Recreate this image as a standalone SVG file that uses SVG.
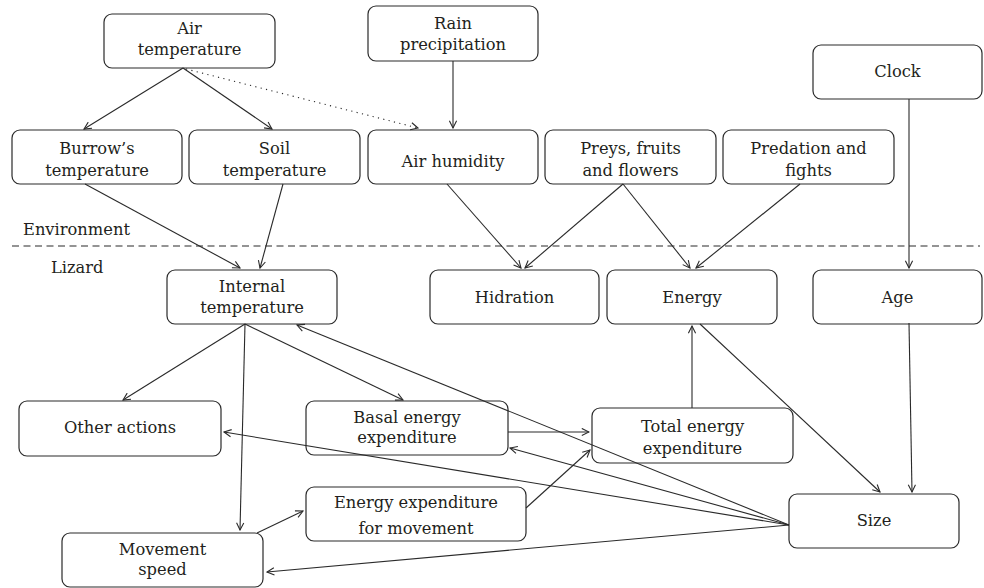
<svg xmlns="http://www.w3.org/2000/svg" width="984" height="588" viewBox="0 0 984 588">
<style>
.box{fill:none;stroke:#2a2a2a;stroke-width:1.2}
.t{font-family:"DejaVu Serif","Liberation Serif",serif;font-size:16.3px;fill:#231f20;text-anchor:middle}
.l{font-family:"DejaVu Serif","Liberation Serif",serif;font-size:16.3px;fill:#231f20}
.c{fill:none;stroke:#2a2a2a;stroke-width:1.1;marker-end:url(#ah)}
</style>
<defs>
<marker id="ah" viewBox="0 0 10 10" refX="9" refY="5" markerWidth="9" markerHeight="9" markerUnits="userSpaceOnUse" orient="auto">
<path d="M1,1 L9,5 L1,9" fill="none" stroke="#2a2a2a" stroke-width="1.2"/>
</marker>
</defs>
<rect width="984" height="588" fill="#fff"/>
<g id="connectors">
<path class="c" d="M183,68 L84,129"/>
<path class="c" d="M183,68 L272,129"/>
<path class="c" d="M186,69 L418,128" stroke-dasharray="1.2,4.3"/>
<path class="c" d="M453,61 L453,128"/>
<path class="c" d="M85,184 L240,268"/>
<path class="c" d="M283,184 L260,268"/>
<path class="c" d="M447,184 L521,268"/>
<path class="c" d="M623,184 L525,268"/>
<path class="c" d="M623,184 L690,268"/>
<path class="c" d="M800,184 L696,268"/>
<path class="c" d="M909,99 L909,268"/>
<path class="c" d="M245,324 L123,400"/>
<path class="c" d="M245,324 L240,530"/>
<path class="c" d="M245,324 L403,400"/>
<path class="c" d="M789,525 L297,325"/>
<path class="c" d="M700,324 L880,492"/>
<path class="c" d="M909,323 L912,492"/>
<path class="c" d="M692,408 L692,326"/>
<path class="c" d="M508,432 L589,432"/>
<path class="c" d="M526,508 L590,450"/>
<path class="c" d="M257,533 L303,511"/>
<path class="c" d="M789,525 L510,448"/>
<path class="c" d="M789,525 L224,432"/>
<path class="c" d="M789,525 L267,572"/>
</g>
<line x1="12" y1="246" x2="980" y2="246" stroke="#2a2a2a" stroke-width="1.1" stroke-dasharray="7,4.5"/>
<text class="l" x="23" y="235">Environment</text>
<text class="l" x="51" y="273">Lizard</text>
<g id="air_temperature"><rect class="box" x="104" y="14" width="171" height="54" rx="8"/><text class="t" x="189.5" y="34">Air</text><text class="t" x="189.5" y="55">temperature</text></g>
<g id="rain_precipitation"><rect class="box" x="368" y="6" width="170" height="55" rx="8"/><text class="t" x="453" y="29">Rain</text><text class="t" x="453" y="50">precipitation</text></g>
<g id="clock"><rect class="box" x="813" y="45" width="169" height="54" rx="8"/><text class="t" x="897.5" y="77">Clock</text></g>
<g id="burrow_temperature"><rect class="box" x="12" y="130" width="170" height="54" rx="8"/><text class="t" x="97" y="154">Burrow’s</text><text class="t" x="97" y="176">temperature</text></g>
<g id="soil_temperature"><rect class="box" x="189" y="130" width="171" height="54" rx="8"/><text class="t" x="274.5" y="154">Soil</text><text class="t" x="274.5" y="176">temperature</text></g>
<g id="air_humidity"><rect class="box" x="368" y="130" width="170" height="54" rx="8"/><text class="t" x="453" y="167">Air humidity</text></g>
<g id="preys"><rect class="box" x="545" y="130" width="171" height="54" rx="8"/><text class="t" x="630.5" y="154">Preys, fruits</text><text class="t" x="630.5" y="176">and flowers</text></g>
<g id="predation"><rect class="box" x="723" y="130" width="171" height="54" rx="8"/><text class="t" x="808.5" y="154">Predation and</text><text class="t" x="808.5" y="176">fights</text></g>
<g id="internal_temperature"><rect class="box" x="167" y="270" width="170" height="54" rx="8"/><text class="t" x="252" y="292">Internal</text><text class="t" x="252" y="313">temperature</text></g>
<g id="hidration"><rect class="box" x="430" y="270" width="169" height="54" rx="8"/><text class="t" x="514.5" y="303">Hidration</text></g>
<g id="energy"><rect class="box" x="607" y="270" width="170" height="54" rx="8"/><text class="t" x="692" y="303">Energy</text></g>
<g id="age"><rect class="box" x="813" y="270" width="169" height="54" rx="8"/><text class="t" x="897.5" y="303">Age</text></g>
<g id="other_actions"><rect class="box" x="19" y="401" width="202" height="55" rx="8"/><text class="t" x="120" y="433">Other actions</text></g>
<g id="basal"><rect class="box" x="306" y="401" width="202" height="54" rx="8"/><text class="t" x="407" y="423">Basal energy</text><text class="t" x="407" y="443">expenditure</text></g>
<g id="total"><rect class="box" x="592" y="408" width="201" height="55" rx="8"/><text class="t" x="692.5" y="432">Total energy</text><text class="t" x="692.5" y="454">expenditure</text></g>
<g id="movement_expenditure"><rect class="box" x="306" y="487" width="220" height="54" rx="8"/><text class="t" x="416" y="508">Energy expenditure</text><text class="t" x="416" y="534">for movement</text></g>
<g id="movement_speed"><rect class="box" x="62" y="533" width="201" height="54" rx="8"/><text class="t" x="162.5" y="555">Movement</text><text class="t" x="162.5" y="575">speed</text></g>
<g id="size"><rect class="box" x="789" y="494" width="170" height="54" rx="8"/><text class="t" x="874" y="526">Size</text></g>
</svg>
